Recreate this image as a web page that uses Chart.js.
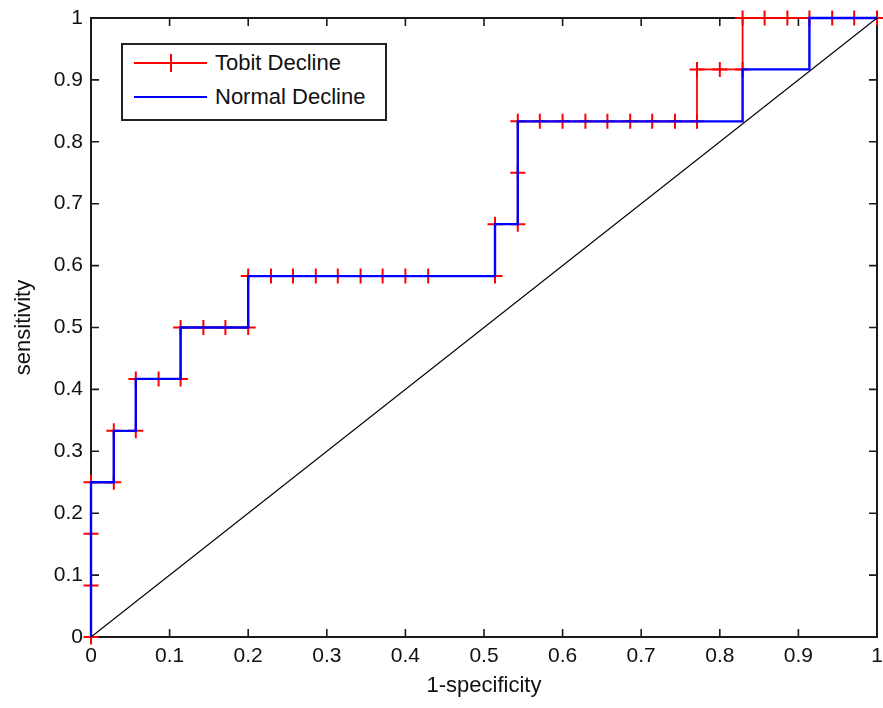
<!DOCTYPE html>
<html>
<head>
<meta charset="utf-8">
<script src="https://cdn.jsdelivr.net/npm/chart.js@4.4.1/dist/chart.umd.min.js"></script>
<style>
html,body{margin:0;padding:0;background:#fff;}
#wrap{position:relative;width:883px;height:708px;}
#legend{position:absolute;left:121px;top:43px;width:262px;height:74px;border:2px solid #222;background:#fff;
  font-family:"Liberation Sans",Arial,Helvetica,sans-serif;font-size:22px;color:#111;}
#legend .row{position:absolute;left:0;width:100%;height:30px;}
#legend .ln{position:absolute;left:11px;width:73px;height:2px;top:14px;}
#legend .mk{position:absolute;left:47px;width:2px;height:18px;top:6px;background:#ff0000;}
#legend .tx{position:absolute;left:92px;top:0;line-height:30px;white-space:nowrap;}
</style>
</head>
<body>
<div id="wrap">
  <canvas id="c" width="883" height="708"></canvas>
  <div id="legend">
    <div class="row" style="top:3px"><div class="ln" style="background:#ff0000"></div><div class="mk"></div><div class="tx">Tobit Decline</div></div>
    <div class="row" style="top:37px"><div class="ln" style="background:#0000ff"></div><div class="tx">Normal Decline</div></div>
  </div>
</div>
<script>
// ---- data ----
const tobitFpr = [0,0,0,0,0.029,0.029,0.057,0.057,0.086,0.114,0.114,0.143,0.171,0.2,0.2,0.229,0.257,0.286,0.314,0.343,0.371,0.4,0.429,0.514,0.514,0.543,0.543,0.543,0.571,0.6,0.629,0.657,0.686,0.714,0.743,0.771,0.771,0.8,0.829,0.829,0.857,0.886,0.914,0.943,0.971,1];
const tobitTpr = [0,0.083,0.167,0.25,0.25,0.333,0.333,0.417,0.417,0.417,0.5,0.5,0.5,0.5,0.583,0.583,0.583,0.583,0.583,0.583,0.583,0.583,0.583,0.583,0.667,0.667,0.75,0.833,0.833,0.833,0.833,0.833,0.833,0.833,0.833,0.833,0.917,0.917,0.917,1,1,1,1,1,1,1];
const normalFpr = [0,0,0.029,0.029,0.057,0.057,0.114,0.114,0.2,0.2,0.514,0.514,0.543,0.543,0.829,0.829,0.914,0.914,1];
const normalTpr = [0,0.25,0.25,0.333,0.333,0.417,0.417,0.5,0.5,0.583,0.583,0.667,0.667,0.833,0.833,0.917,0.917,1,1];
const diagFpr = [0,1];
const diagTpr = [0,1];
const xTicks = [0,0.1,0.2,0.3,0.4,0.5,0.6,0.7,0.8,0.9,1];
const yTicks = [0,0.1,0.2,0.3,0.4,0.5,0.6,0.7,0.8,0.9,1];
const xTitle = '1-specificity';
const yTitle = 'sensitivity';

const pts = (xs, ys) => xs.map((v,i)=>({x:v, y:ys[i]}));
const FONT = '"Liberation Sans", Arial, Helvetica, sans-serif';
const TL = 8;

const frame = {
  id:'frame',
  beforeDatasetsDraw(chart){
    const {ctx, chartArea:a, scales:{x,y}} = chart;
    ctx.save();
    ctx.strokeStyle = '#1a1a1a';
    ctx.lineWidth = 1.6;
    ctx.beginPath();
    x.ticks.forEach(t=>{
      const p = x.getPixelForValue(t.value);
      ctx.moveTo(p, a.bottom); ctx.lineTo(p, a.bottom - TL);
      ctx.moveTo(p, a.top); ctx.lineTo(p, a.top + TL);
    });
    y.ticks.forEach(t=>{
      const p = y.getPixelForValue(t.value);
      ctx.moveTo(a.left, p); ctx.lineTo(a.left + TL, p);
      ctx.moveTo(a.right, p); ctx.lineTo(a.right - TL, p);
    });
    ctx.stroke();
    ctx.lineWidth = 2;
    ctx.strokeRect(a.left, a.top, a.right - a.left, a.bottom - a.top);
    ctx.restore();
  }
};

new Chart(document.getElementById('c'), {
  type: 'scatter',
  data: {
    datasets: [
      {label:'Tobit Decline', data: pts(tobitFpr, tobitTpr), showLine:true, borderColor:'#ff0000', backgroundColor:'#ff0000',
       borderWidth:1.8, pointStyle:'cross', pointRadius:7.5, pointBorderWidth:2, pointBorderColor:'#ff0000', tension:0, clip:false, order:3},
      {label:'Normal Decline', data: pts(normalFpr, normalTpr), showLine:true, borderColor:'#0000ff',
       borderWidth:2.4, pointRadius:0, tension:0, clip:false, order:2},
      {label:'diag', data: pts(diagFpr, diagTpr), showLine:true, borderColor:'#000000', borderWidth:1.1, pointRadius:0, tension:0, clip:false, order:1}
    ]
  },
  options: {
    responsive:false,
    animation:false,
    devicePixelRatio:1,
    layout:{autoPadding:false, padding:{left:0, top:18, right:6, bottom:0}},
    plugins:{legend:{display:false}, tooltip:{enabled:false}},
    scales:{
      x:{
        type:'linear', min:0, max:1,
        afterBuildTicks:(s)=>{ s.ticks = xTicks.map(v=>({value:v})); },
        afterFit:(s)=>{ s.height = 71; s.paddingLeft = 0; s.paddingRight = 0; },
        grid:{display:false, drawTicks:false},
        border:{display:false},
        ticks:{padding:7, color:'#111', font:{family:FONT, size:21}, maxRotation:0, autoSkip:false, callback:(v)=>String(v)},
        title:{display:true, text:xTitle, color:'#111', font:{family:FONT, size:22}, padding:{top:0, bottom:9}}
      },
      y:{
        type:'linear', min:0, max:1,
        afterBuildTicks:(s)=>{ s.ticks = yTicks.map(v=>({value:v})); },
        afterFit:(s)=>{ s.width = 91; s.paddingTop = 0; s.paddingBottom = 0; },
        grid:{display:false, drawTicks:false},
        border:{display:false},
        ticks:{padding:8, color:'#111', font:{family:FONT, size:21}, autoSkip:false, callback:(v)=>String(v)},
        title:{display:true, text:yTitle, color:'#111', font:{family:FONT, size:22}, padding:{top:11, bottom:0}}
      }
    }
  },
  plugins:[frame]
});
</script>
</body>
</html>
